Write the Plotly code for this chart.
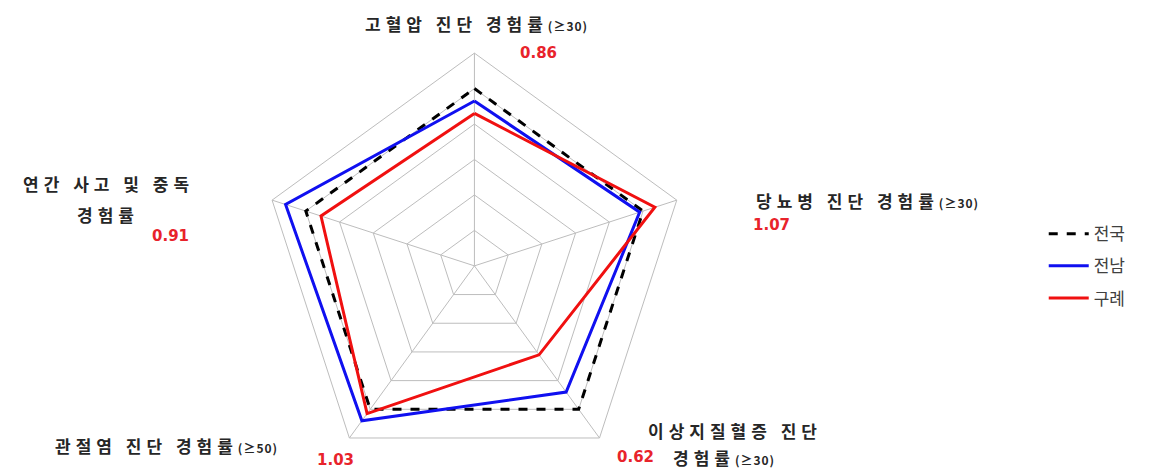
import plotly.graph_objects as go

W, H = 1169, 471

categories = [
    "고혈압 진단 경험률(≥30)",
    "당뇨병 진단 경험률(≥30)",
    "이상지질혈증 진단 경험률(≥30)",
    "관절염 진단 경험률(≥50)",
    "연간 사고 및 중독 경험률",
]
nation = [1.00, 1.00, 1.00, 1.00, 1.00]     # 전국
jeonnam = [0.93, 0.98, 0.88, 1.08, 1.12]    # 전남
gurye = [0.86, 1.07, 0.62, 1.03, 0.91]      # 구례
gurye_labels = ["0.86", "1.07", "0.62", "1.03", "0.91"]

FONT = "Noto Sans CJK KR"
LABEL_RED = "#e8232b"
GRID = "#bdbdbd"


def closed(vals):
    return list(vals) + [vals[0]]


def px(x, y):
    return x / W, 1 - y / H


fig = go.Figure()
series = [
    ("전국", nation, dict(color="black", width=3, dash="dash")),
    ("전남", jeonnam, dict(color="#1010f0", width=3)),
    ("구례", gurye, dict(color="#f01010", width=3)),
]
for name, vals, line in series:
    fig.add_trace(
        go.Scatterpolar(
            r=closed(vals),
            theta=closed(categories),
            mode="lines",
            name=name,
            legendgroup=name,
            line=line,
        )
    )

# axis titles and 구례 ratio labels (placed like the source image)
sm = "<span style='font-size:12px;letter-spacing:1px'>{}</span>"
sp = "letter-spacing:5px"
title_items = [
    (468, 16, "center", f"<span style='{sp}'>고혈압 진단 경험률</span>" + sm.format("(≥30)")),
    (746, 192, "left", f"<span style='{sp}'>당뇨병 진단 경험률</span>" + sm.format("(≥30)")),
    (100, 176, "center", f"<span style='{sp}'>연간 사고 및 중독</span>"),
    (100, 206, "center", f"<span style='{sp}'>경험률</span>"),
    (45, 437, "left", f"<span style='{sp}'>관절염 진단 경험률</span>" + sm.format("(≥50)")),
    (638, 422, "left", f"<span style='{sp}'>이상지질혈증 진단</span>"),
    (716, 449, "center", f"<span style='{sp}'>경험률</span>" + sm.format("(≥30)")),
]
for x, y, align, text in title_items:
    ax, ay = px(x, y)
    fig.add_annotation(
        x=ax, y=ay, xref="paper", yref="paper", text=f"<b>{text}</b>",
        showarrow=False, xanchor=align, yanchor="middle",
        font=dict(family=FONT, size=17, color="#262626"),
    )

ratio_pos = [(530, 45), (763, 217), (627, 449), (327, 452), (162, 228)]
for (x, y), lab in zip(ratio_pos, gurye_labels):
    ax, ay = px(x, y)
    fig.add_annotation(
        x=ax, y=ay, xref="paper", yref="paper", text=f"<b>{lab}</b>",
        showarrow=False, xanchor="center", yanchor="middle",
        font=dict(family="DejaVu Sans", size=15, color=LABEL_RED),
    )

fig.update_layout(
    width=W,
    height=H,
    margin=dict(l=0, r=0, t=0, b=0),
    paper_bgcolor="white",
    font=dict(family=FONT),
    polar=dict(
        domain=dict(x=[0.217, 0.581], y=[0.0, 0.905]),
        bgcolor="white",
        gridshape="linear",
        radialaxis=dict(
            range=[0, 1.2], dtick=0.2, showticklabels=False, ticks="",
            showline=False, gridcolor=GRID, gridwidth=1,
        ),
        angularaxis=dict(
            rotation=90, direction="clockwise", showticklabels=False, ticks="",
            gridcolor=GRID, linecolor=GRID, linewidth=1,
        ),
    ),
    legend=dict(
        x=0.886, y=0.558, xanchor="left", yanchor="top",
        font=dict(family=FONT, size=17, color="#404040"),
        bgcolor="rgba(0,0,0,0)",
        traceorder="grouped",
        tracegroupgap=7,
        itemwidth=40,
    ),
)

fig.write_html("out.html")
